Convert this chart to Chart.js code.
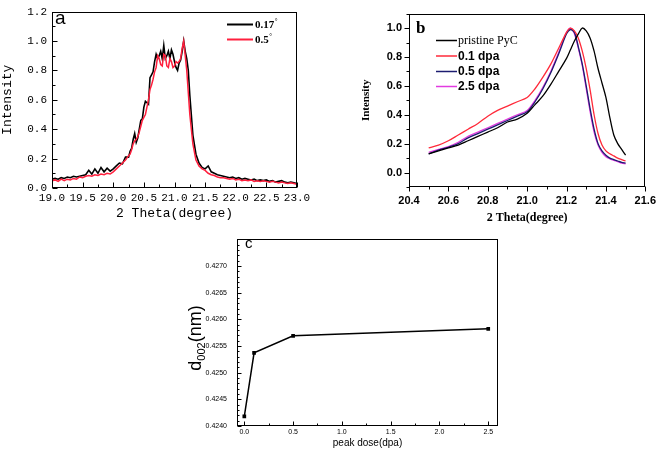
<!DOCTYPE html>
<html>
<head>
<meta charset="utf-8">
<script src="https://cdn.jsdelivr.net/npm/chart.js@4.4.1/dist/chart.umd.min.js"></script>
<style>
  html, body { margin: 0; padding: 0; background: #fff; }
  body { width: 663px; height: 450px; position: relative; overflow: hidden; }
  canvas { position: absolute; }
  #chartA { left: 0; top: 0; }
  #chartB { left: 330px; top: 0; }
  #chartC { left: 130px; top: 225px; }
</style>
</head>
<body>
<canvas id="chartA" width="330" height="225"></canvas>
<canvas id="chartB" width="333" height="225"></canvas>
<canvas id="chartC" width="400" height="225"></canvas>
<script>
// ---- panel a : XRD scans at two incidence angles ----
const aTheta = [19.00, 19.05, 19.10, 19.15, 19.20, 19.25, 19.30, 19.35, 19.40, 19.45,
                19.50, 19.55, 19.60, 19.65, 19.70, 19.75, 19.80, 19.85, 19.90, 19.95,
                20.00, 20.05, 20.10, 20.15, 20.20, 20.25,
                20.275, 20.30, 20.325, 20.35, 20.375, 20.40, 20.425, 20.45, 20.475, 20.50,
                20.525, 20.55, 20.575, 20.60, 20.625, 20.65, 20.675, 20.70, 20.725, 20.75,
                20.775, 20.80, 20.825, 20.85, 20.875, 20.90, 20.925, 20.95, 20.975, 21.00,
                21.025, 21.05, 21.075, 21.10, 21.125, 21.15, 21.175, 21.20, 21.225, 21.25,
                21.30, 21.35, 21.40, 21.45, 21.50, 21.55, 21.60, 21.65, 21.70, 21.75,
                21.80, 21.85, 21.90, 21.95, 22.00, 22.05, 22.10, 22.15, 22.20, 22.25,
                22.30, 22.35, 22.40, 22.45, 22.50, 22.55, 22.60, 22.65, 22.70, 22.75,
                22.80, 22.85, 22.90, 22.95, 23.00];
const aAngle017 = [0.060, 0.065, 0.060, 0.070, 0.065, 0.075, 0.070, 0.080, 0.075, 0.080,
                   0.085, 0.090, 0.120, 0.095, 0.130, 0.100, 0.140, 0.110, 0.135, 0.115,
                   0.130, 0.150, 0.170, 0.165, 0.210, 0.210,
                   0.25, 0.27, 0.33, 0.37, 0.31, 0.34, 0.40, 0.46, 0.47, 0.55,
                   0.59, 0.58, 0.57, 0.75, 0.77, 0.79, 0.86, 0.91, 0.88, 0.90,
                   0.93, 0.88, 0.97, 0.88, 0.90, 0.93, 0.88, 0.94, 0.91, 0.86,
                   0.82, 0.80, 0.85, 0.87, 0.93, 1.00, 0.93, 0.88, 0.80, 0.63,
                   0.360, 0.230, 0.170, 0.140, 0.130, 0.150, 0.110, 0.100, 0.090, 0.085,
                   0.080, 0.075, 0.070, 0.075, 0.065, 0.070, 0.060, 0.065, 0.060, 0.055,
                   0.060, 0.050, 0.055, 0.050, 0.055, 0.045, 0.050, 0.040, 0.045, 0.050,
                   0.040, 0.035, 0.040, 0.035, 0.030];
const aAngle05 = [0.050, 0.055, 0.045, 0.060, 0.050, 0.060, 0.055, 0.065, 0.060, 0.075,
                  0.070, 0.080, 0.085, 0.080, 0.090, 0.085, 0.095, 0.090, 0.100, 0.095,
                  0.110, 0.130, 0.150, 0.170, 0.190, 0.220,
                  0.23, 0.26, 0.30, 0.32, 0.33, 0.35, 0.38, 0.42, 0.46, 0.48,
                  0.50, 0.55, 0.60, 0.67, 0.70, 0.74, 0.79, 0.82, 0.90, 0.88,
                  0.84, 0.83, 0.91, 0.90, 0.83, 0.82, 0.88, 0.86, 0.82, 0.83,
                  0.86, 0.85, 0.86, 0.88, 0.95, 1.00, 0.90, 0.80, 0.65, 0.50,
                  0.300, 0.190, 0.150, 0.130, 0.120, 0.100, 0.090, 0.085, 0.075, 0.070,
                  0.070, 0.065, 0.060, 0.065, 0.055, 0.060, 0.050, 0.055, 0.050, 0.055,
                  0.045, 0.050, 0.045, 0.050, 0.045, 0.040, 0.045, 0.040, 0.035, 0.040,
                  0.035, 0.030, 0.035, 0.030, 0.025];
const aLabels = ['0.17', '0.5'];
const aXTicks = [19.0, 19.5, 20.0, 20.5, 21.0, 21.5, 22.0, 22.5, 23.0];
const aYTicks = [0.0, 0.2, 0.4, 0.6, 0.8, 1.0, 1.2];

// ---- panel b : normalised (002) peak vs dose ----
const bTheta = [20.50, 20.55, 20.60, 20.65, 20.70, 20.75, 20.80, 20.85, 20.90, 20.95, 21.00,
                21.04, 21.08, 21.12, 21.16, 21.20, 21.22, 21.24, 21.26, 21.28, 21.30,
                21.32, 21.34, 21.36, 21.38, 21.40, 21.42, 21.44, 21.46, 21.48, 21.50];
const bPristine = [0.13, 0.15, 0.17, 0.19, 0.22, 0.25, 0.28, 0.31, 0.35, 0.37, 0.41,
                   0.47, 0.53, 0.61, 0.70, 0.79, 0.85, 0.91, 0.96, 1.00, 0.98,
                   0.93, 0.84, 0.72, 0.62, 0.52, 0.38, 0.26, 0.20, 0.16, 0.12];
const bDose01 = [0.17, 0.19, 0.22, 0.26, 0.30, 0.34, 0.39, 0.43, 0.46, 0.49, 0.52,
                 0.58, 0.66, 0.75, 0.86, 0.97, 1.00, 0.98, 0.93, 0.84, 0.72,
                 0.57, 0.40, 0.27, 0.19, 0.15, 0.13, 0.115, 0.10, 0.09, 0.08];
const bDose05 = [0.13, 0.155, 0.175, 0.20, 0.24, 0.27, 0.30, 0.33, 0.36, 0.39, 0.42,
                 0.49, 0.58, 0.69, 0.82, 0.96, 0.99, 0.97, 0.87, 0.75, 0.60,
                 0.44, 0.30, 0.20, 0.15, 0.12, 0.10, 0.09, 0.08, 0.07, 0.065];
const bDose25 = [0.14, 0.16, 0.18, 0.21, 0.25, 0.28, 0.31, 0.34, 0.37, 0.40, 0.43,
                 0.50, 0.59, 0.70, 0.83, 0.97, 1.00, 0.96, 0.86, 0.74, 0.58,
                 0.42, 0.28, 0.19, 0.14, 0.11, 0.095, 0.085, 0.075, 0.065, 0.06];
const bLabels = ['pristine PyC', '0.1 dpa', '0.5 dpa', '2.5 dpa'];
const bXTicks = [20.4, 20.6, 20.8, 21.0, 21.2, 21.4, 21.6];
const bYTicks = [0.0, 0.2, 0.4, 0.6, 0.8, 1.0];

// ---- panel c : d002 spacing vs peak dose ----
const cDose = [0.0, 0.1, 0.5, 2.5];
const cD002 = [0.42418, 0.42537, 0.42569, 0.42582];
const cXTicks = [0.0, 0.5, 1.0, 1.5, 2.0, 2.5];
const cYTicks = [0.4240, 0.4245, 0.4250, 0.4255, 0.4260, 0.4265, 0.4270];

function pts(xs, ys) {
    return xs.map((x, i) => ({ x: x, y: ys[i] }));
}

// draw a box round the plot area plus major / minor tick marks
function frameTicks(tickSets) {
    return {
        id: 'frameTicks',
        afterDatasetsDraw(chart) {
            const ctx = chart.ctx;
            const a = chart.chartArea;
            ctx.save();
            ctx.strokeStyle = '#000';
            ctx.lineWidth = 1;
            const L = Math.round(a.left) + 0.5, R = Math.round(a.right) - 0.5;
            const T = Math.round(a.top) + 0.5, B = Math.round(a.bottom) - 0.5;
            ctx.strokeRect(L, T, R - L, B - T);
            ctx.beginPath();
            tickSets.forEach(t => {
                const scale = chart.scales[t.axis];
                const n = Math.round((t.to - t.from) / t.step);
                for (let i = 0; i <= n; i++) {
                    const p = Math.round(scale.getPixelForValue(t.from + i * t.step)) + 0.5;
                    if (t.axis === 'x') {
                        const d = t.inward ? -t.len : t.len;
                        ctx.moveTo(p, B); ctx.lineTo(p, B + d);
                    } else {
                        const d = t.inward ? t.len : -t.len;
                        ctx.moveTo(L, p); ctx.lineTo(L + d, p);
                    }
                }
            });
            ctx.stroke();
            ctx.restore();
        }
    };
}

function baseAxis(min, max, tickVals, digits, font, pad, size, title) {
    return {
        type: 'linear',
        min: min,
        max: max,
        grid: { display: false, drawTicks: false },
        border: { display: false },
        afterBuildTicks: function (scale) {
            scale.ticks = tickVals.map(v => ({ value: v }));
        },
        afterFit: function (scale) {
            if (scale.isHorizontal()) scale.height = size; else scale.width = size;
        },
        ticks: {
            autoSkip: false,
            maxRotation: 0,
            color: '#000',
            font: font,
            padding: pad,
            callback: v => Number(v).toFixed(digits)
        },
        title: title
    };
}

// ---------------- panel a ----------------
const monoTick = { family: 'Liberation Mono', size: 11 };
new Chart(document.getElementById('chartA'), {
    type: 'line',
    data: {
        datasets: [
            { label: aLabels[1], data: pts(aTheta, aAngle05), borderColor: '#ff1f3d', borderWidth: 1.5, pointRadius: 0, order: 0 },
            { label: aLabels[0], data: pts(aTheta, aAngle017), borderColor: '#000000', borderWidth: 1.6, pointRadius: 0, order: 1 }
        ]
    },
    options: {
        responsive: false,
        animation: false,
        devicePixelRatio: 1,
        layout: { padding: { left: 0, right: 33, top: 6, bottom: 0 } },
        plugins: { legend: { display: false }, tooltip: { enabled: false } },
        scales: {
            x: baseAxis(19, 23, aXTicks, 1, monoTick, 3, 37,
                { display: true, text: '2 Theta(degree)', color: '#000',
                  font: { family: 'Liberation Mono', size: 13 }, padding: { top: 0, bottom: 4 } }),
            y: baseAxis(0, 1.2, aYTicks, 1, monoTick, 5, 52,
                { display: true, text: 'Intensity', color: '#000',
                  font: { family: 'Liberation Mono', size: 13 }, padding: { top: 0, bottom: 0 } })
        }
    },
    plugins: [
        frameTicks([
            { axis: 'x', from: 19, to: 23, step: 0.5, len: 5, inward: true },
            { axis: 'x', from: 19.25, to: 22.75, step: 0.5, len: 3, inward: true },
            { axis: 'y', from: 0, to: 1.2, step: 0.2, len: 5, inward: true },
            { axis: 'y', from: 0.1, to: 1.1, step: 0.2, len: 3, inward: true }
        ]),
        {
            id: 'panelAText',
            afterDraw(chart) {
                const ctx = chart.ctx;
                ctx.save();
                ctx.fillStyle = '#000';
                ctx.font = '19px "Liberation Sans"';
                ctx.textBaseline = 'alphabetic';
                ctx.fillText('a', 55, 24);
                // legend
                const rows = [{ y: 24, ds: 1 }, { y: 39, ds: 0 }];
                rows.forEach(r => {
                    const ds = chart.data.datasets[r.ds];
                    ctx.strokeStyle = ds.borderColor;
                    ctx.lineWidth = 2;
                    ctx.beginPath(); ctx.moveTo(227, r.y + 0.5); ctx.lineTo(253, r.y + 0.5); ctx.stroke();
                    ctx.font = 'bold 11px "Liberation Serif"';
                    ctx.textBaseline = 'middle';
                    ctx.fillText(ds.label, 255, r.y + 1);
                    const w = ctx.measureText(ds.label).width;
                    ctx.font = '7px "Liberation Serif"';
                    ctx.fillText('°', 255 + w + 0.5, r.y - 3);
                });
                ctx.restore();
            }
        }
    ]
});

// ---------------- panel b ----------------
const bTick = { family: 'Liberation Sans', size: 11, weight: 'bold' };
const bColors = ['#000000', '#ff2a3a', '#1c1c70', '#e23be0'];
const bSeries = [bPristine, bDose01, bDose05, bDose25];
new Chart(document.getElementById('chartB'), {
    type: 'line',
    data: {
        datasets: bSeries.map((s, i) => ({
            label: bLabels[i],
            data: pts(bTheta, s),
            borderColor: bColors[i],
            borderWidth: 1.3,
            pointRadius: 0,
            tension: 0.3
        }))
    },
    options: {
        responsive: false,
        animation: false,
        devicePixelRatio: 1,
        layout: { padding: { left: 0, right: 12, top: 12, bottom: 0 } },
        plugins: { legend: { display: false }, tooltip: { enabled: false } },
        scales: {
            x: baseAxis(20.4, 21.6, bXTicks, 1, bTick, 7, 38,
                { display: true, text: '2 Theta(degree)', color: '#000',
                  font: { family: 'Liberation Serif', size: 12, weight: 'bold' }, padding: { top: 0, bottom: 0 } }),
            y: baseAxis(-0.1, 1.1, bYTicks, 1, bTick, 7, 79,
                { display: true, text: 'Intensity', color: '#000',
                  font: { family: 'Liberation Serif', size: 11, weight: 'bold' }, padding: { top: 30, bottom: 0 } })
        }
    },
    plugins: [
        frameTicks([
            { axis: 'x', from: 20.4, to: 21.6, step: 0.2, len: 5, inward: false },
            { axis: 'x', from: 20.5, to: 21.5, step: 0.2, len: 3, inward: false },
            { axis: 'y', from: 0, to: 1.0, step: 0.2, len: 5, inward: false },
            { axis: 'y', from: -0.1, to: 1.1, step: 0.2, len: 3, inward: false }
        ]),
        {
            id: 'panelBText',
            afterDraw(chart) {
                const ctx = chart.ctx;
                ctx.save();
                ctx.fillStyle = '#000';
                ctx.font = 'bold 17px "Liberation Serif"';
                ctx.textBaseline = 'alphabetic';
                ctx.fillText('b', 86, 33);
                const rowY = [40, 55.5, 71, 86];
                chart.data.datasets.forEach((ds, i) => {
                    ctx.strokeStyle = ds.borderColor;
                    ctx.lineWidth = 1.5;
                    ctx.beginPath(); ctx.moveTo(106, rowY[i] + 0.5); ctx.lineTo(127, rowY[i] + 0.5); ctx.stroke();
                    ctx.font = i === 0 ? '12px "Liberation Serif"' : 'bold 12px "Liberation Sans"';
                    ctx.textBaseline = 'middle';
                    ctx.fillText(ds.label, 128, rowY[i] + 1);
                });
                ctx.restore();
            }
        }
    ]
});

// ---------------- panel c ----------------
const cTick = { family: 'Liberation Sans', size: 7 };
new Chart(document.getElementById('chartC'), {
    type: 'line',
    data: {
        datasets: [{
            label: 'd002',
            data: pts(cDose, cD002),
            borderColor: '#000',
            backgroundColor: '#000',
            borderWidth: 1.5,
            pointStyle: 'rect',
            pointRadius: 2.6,
            pointBorderWidth: 0
        }]
    },
    options: {
        responsive: false,
        animation: false,
        devicePixelRatio: 1,
        layout: { padding: { left: 0, right: 32, top: 8, bottom: 0 } },
        plugins: { legend: { display: false }, tooltip: { enabled: false } },
        scales: {
            x: baseAxis(-0.075, 2.6, cXTicks, 1, cTick, 2, 24,
                { display: true, text: 'peak dose(dpa)', color: '#000',
                  font: { family: 'Liberation Sans', size: 10 }, padding: { top: 0, bottom: 1 } }),
            y: baseAxis(0.4240, 0.4275, cYTicks, 4, cTick, 10, 107, { display: false })
        }
    },
    plugins: [
        frameTicks([
            { axis: 'x', from: 0, to: 2.5, step: 0.5, len: 4, inward: true },
            { axis: 'x', from: 0.25, to: 2.25, step: 0.5, len: 2, inward: true },
            { axis: 'y', from: 0.4240, to: 0.4270, step: 0.0005, len: 4, inward: true },
            { axis: 'y', from: 0.4241, to: 0.4274, step: 0.0001, len: 2, inward: true }
        ]),
        {
            id: 'panelCText',
            afterDraw(chart) {
                const ctx = chart.ctx;
                ctx.save();
                ctx.fillStyle = '#000';
                ctx.font = '15px "Liberation Sans"';
                ctx.textBaseline = 'alphabetic';
                ctx.fillText('c', 115, 23);
                // rotated y title with subscript
                ctx.translate(65, 113);
                ctx.rotate(-Math.PI / 2);
                const big = '18px "Liberation Sans"', small = '11px "Liberation Sans"';
                ctx.font = big; const w1 = ctx.measureText('d').width;
                ctx.font = small; const w2 = ctx.measureText('002').width;
                ctx.font = big; const w3 = ctx.measureText('(nm)').width;
                let x = -(w1 + w2 + w3) / 2;
                ctx.textBaseline = 'alphabetic';
                ctx.font = big; ctx.fillText('d', x, 6); x += w1;
                ctx.font = small; ctx.fillText('002', x, 10); x += w2;
                ctx.font = big; ctx.fillText('(nm)', x, 6);
                ctx.restore();
            }
        }
    ]
});
</script>
</body>
</html>
